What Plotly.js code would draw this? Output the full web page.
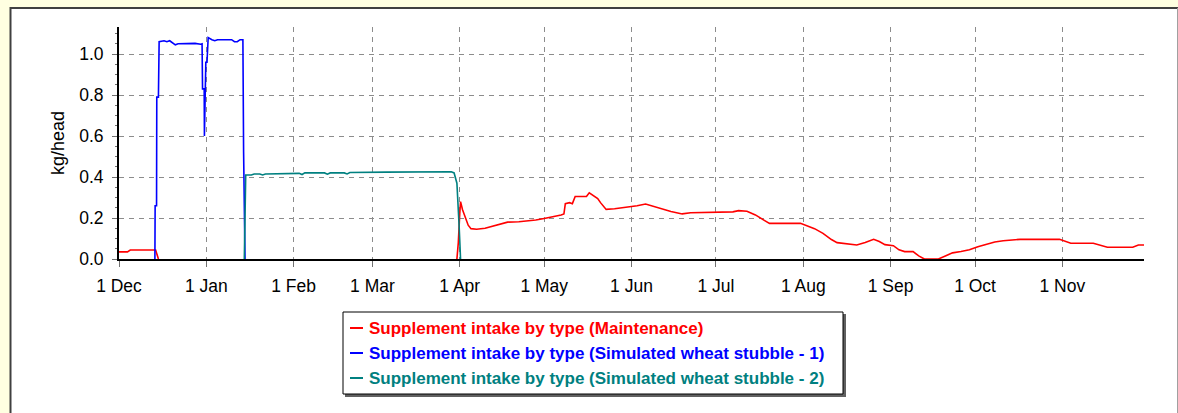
<!DOCTYPE html>
<html>
<head>
<meta charset="utf-8">
<script src="https://cdn.plot.ly/plotly-3.0.1.min.js"></script>
<style>
  html, body { margin: 0; padding: 0; background: #FFFFE1; }
  #chart { width: 1178px; height: 413px; }
</style>
</head>
<body>
<div id="chart"></div>
<script>
// ---- Data ----
const seriesNames = [
  "Supplement intake by type (Maintenance)",
  "Supplement intake by type (Simulated wheat stubble - 1)",
  "Supplement intake by type (Simulated wheat stubble - 2)"
];
const seriesColors = ["#FF0000", "#0000FF", "#008080"];

const redDates = ['2010-12-01','2010-12-04','2010-12-05','2010-12-14','2010-12-15','2011-03-30','2011-03-31','2011-03-31 12:00','2011-04-01','2011-04-01 07:00','2011-04-02','2011-04-03','2011-04-04','2011-04-05','2011-04-07','2011-04-10','2011-04-13','2011-04-15','2011-04-18','2011-04-22','2011-04-26','2011-04-28','2011-05-01','2011-05-04','2011-05-07','2011-05-08','2011-05-08 12:00','2011-05-10','2011-05-11','2011-05-12','2011-05-16','2011-05-17','2011-05-18','2011-05-19','2011-05-20','2011-05-21','2011-05-23','2011-05-26','2011-05-30','2011-06-03','2011-06-06','2011-06-09','2011-06-11','2011-06-15','2011-06-19','2011-06-22','2011-07-07','2011-07-09','2011-07-12','2011-07-15','2011-07-18','2011-07-20','2011-07-31','2011-08-03','2011-08-05','2011-08-08','2011-08-11','2011-08-13','2011-08-20','2011-08-23','2011-08-26','2011-08-28','2011-08-30','2011-09-02','2011-09-04','2011-09-06','2011-09-09','2011-09-11','2011-09-13','2011-09-18','2011-09-20','2011-09-23','2011-09-26','2011-09-29','2011-10-02','2011-10-05','2011-10-08','2011-10-11','2011-10-15','2011-10-17','2011-10-31','2011-11-02','2011-11-04','2011-11-12','2011-11-15','2011-11-17','2011-11-26','2011-11-28','2011-11-30'];
// null = no supplement fed (line hidden behind the axis in the original)
const redValues = [0.035,0.035,0.044,0.044,0,null,0,0.08,0.22,0.28,0.24,0.2,0.165,0.148,0.145,0.15,0.16,0.17,0.18,0.182,0.185,0.19,0.198,0.205,0.215,0.22,0.27,0.275,0.27,0.305,0.305,0.323,0.315,0.305,0.295,0.275,0.242,0.245,0.252,0.26,0.268,0.255,0.247,0.232,0.22,0.226,0.23,0.236,0.233,0.215,0.19,0.174,0.174,0.16,0.148,0.125,0.095,0.08,0.068,0.08,0.096,0.085,0.07,0.065,0.045,0.036,0.036,0.015,0,0,0.012,0.03,0.037,0.045,0.06,0.073,0.083,0.089,0.094,0.096,0.096,0.085,0.077,0.077,0.065,0.057,0.057,0.068,0.068];

const blueDates = ['2010-12-13 18:00','2010-12-13 20:00','2010-12-14 08:00','2010-12-14 10:00','2010-12-15','2010-12-15 06:00','2010-12-17','2010-12-18','2010-12-19','2010-12-20','2010-12-21','2010-12-22','2010-12-25','2010-12-28','2010-12-30','2010-12-30 12:00','2010-12-30 16:00','2010-12-31 06:00','2010-12-31 08:00','2010-12-31 12:00','2010-12-31 20:00','2011-01-01 06:00','2011-01-01 16:00','2011-01-03','2011-01-04','2011-01-05','2011-01-10','2011-01-11','2011-01-12','2011-01-13','2011-01-14','2011-01-14 06:00','2011-01-14 18:00'];
const blueValues = [0,0.26,0.26,0.79,0.79,1.06,1.065,1.06,1.065,1.055,1.045,1.05,1.052,1.052,1.048,1.05,0.83,0.83,0.6,0.72,0.96,0.96,1.08,1.07,1.065,1.07,1.07,1.06,1.06,1.07,1.07,0.52,0];

const tealDates = ['2011-01-14 12:00','2011-01-14 16:00','2011-01-15','2011-01-17','2011-01-18','2011-01-20','2011-01-21','2011-01-22','2011-01-28','2011-01-30','2011-02-03','2011-02-04','2011-02-05','2011-02-12','2011-02-13','2011-02-14','2011-02-19','2011-02-20','2011-02-21','2011-03-06','2011-03-16','2011-03-29','2011-03-30','2011-03-31','2011-03-31 19:00','2011-04-01 07:00'];
const tealValues = [0,0.2,0.41,0.41,0.415,0.415,0.41,0.415,0.415,0.418,0.418,0.412,0.42,0.42,0.414,0.42,0.42,0.415,0.422,0.424,0.426,0.426,0.42,0.37,0.16,0];

const yTickVals = [0, 0.2, 0.4, 0.6, 0.8, 1.0];
const xRange = ['2010-12-01', '2011-11-30'];
const yRange = [0, 1.132];
const yTitle = "kg/head";

// ---- Layout geometry (pixels -> paper coords) ----
const W = 1178, H = 413;
const M = { l: 119, r: 34, t: 27, b: 154 };
const PW = W - M.l - M.r, PH = H - M.t - M.b;
const px = x => (x - M.l) / PW;
const py = y => (H - M.b - y) / PH;

const allDates = [redDates, blueDates, tealDates];
const allValues = [redValues, blueValues, tealValues];

const traces = allDates.map((d, i) => ({
  type: 'scatter',
  mode: 'lines',
  x: d,
  y: allValues[i],
  name: seriesNames[i],
  connectgaps: false,
  line: { color: seriesColors[i], width: 1.6 },
  showlegend: false,
  hoverinfo: 'x+y+name'
}));

const shapes = [
  // white panel with border
  { type: 'rect', xref: 'paper', yref: 'paper', layer: 'below',
    x0: px(10), x1: px(1178), y0: py(420), y1: py(7.5),
    fillcolor: '#FFFFFF', line: { width: 0 } },
  { type: 'line', xref: 'paper', yref: 'paper', layer: 'below',
    x0: px(10.5), x1: px(10.5), y0: py(420), y1: py(7),
    line: { color: '#404040', width: 2 } },
  { type: 'line', xref: 'paper', yref: 'paper', layer: 'below',
    x0: px(10), x1: px(1178), y0: py(8), y1: py(8),
    line: { color: '#404040', width: 2 } },
  { type: 'line', xref: 'paper', yref: 'paper', layer: 'below',
    x0: px(1177.5), x1: px(1177.5), y0: py(420), y1: py(8),
    line: { color: '#A0A0A0', width: 1 } },
  // legend shadow and box
  { type: 'rect', xref: 'paper', yref: 'paper',
    x0: px(345), x1: px(846), y0: py(397), y1: py(314),
    fillcolor: '#606060', line: { width: 0 } },
  { type: 'rect', xref: 'paper', yref: 'paper',
    x0: px(343), x1: px(843), y0: py(394), y1: py(312),
    fillcolor: '#FFFFFF', line: { color: '#000000', width: 1 } }
];

const rowY = [328, 353, 378];
const annotations = [];
seriesNames.forEach((n, i) => {
  shapes.push({ type: 'line', xref: 'paper', yref: 'paper',
    x0: px(350), x1: px(363), y0: py(rowY[i]), y1: py(rowY[i]),
    line: { color: seriesColors[i], width: 2 } });
  annotations.push({ xref: 'paper', yref: 'paper', x: px(367), y: py(rowY[i]),
    xanchor: 'left', yanchor: 'middle', showarrow: false,
    text: '<b>' + n + '</b>',
    font: { family: 'Liberation Sans, Arial, sans-serif', size: 17, color: seriesColors[i] } });
});

const tickFont = { family: 'Liberation Sans, Arial, sans-serif', size: 17.5, color: '#000000' };

const layout = {
  width: W, height: H,
  margin: M,
  paper_bgcolor: '#FFFFE1',
  plot_bgcolor: '#FFFFFF',
  showlegend: false,
  xaxis: {
    type: 'date',
    range: xRange,
    tick0: '2010-12-01',
    dtick: 'M1',
    tickformat: '%-d %b',
    ticks: 'outside', ticklen: 6, tickwidth: 1, tickcolor: '#707070',
    ticklabelstandoff: 4,
    showline: true, linecolor: '#000000', linewidth: 2,
    showgrid: true, gridcolor: '#8C8C8C', gridwidth: 1, griddash: '5px,5px',
    zeroline: false,
    tickfont: tickFont,
    fixedrange: true
  },
  yaxis: {
    range: yRange,
    tickvals: yTickVals,
    tickformat: '.1f',
    ticks: 'outside', ticklen: 5, tickwidth: 1, tickcolor: '#707070',
    ticklabelstandoff: 5,
    showline: true, linecolor: '#000000', linewidth: 2,
    showgrid: true, gridcolor: '#8C8C8C', gridwidth: 1, griddash: '5px,5px',
    zeroline: false,
    tickfont: tickFont,
    minor: { dtick: 0.05, ticks: 'outside', ticklen: 2, tickcolor: '#707070', showgrid: false },
    title: { text: yTitle, font: { family: 'Liberation Sans, Arial, sans-serif', size: 18, color: '#000000' }, standoff: 10 },
    fixedrange: true
  },
  shapes: shapes,
  annotations: annotations
};

Plotly.newPlot('chart', traces, layout, { displayModeBar: false, staticPlot: true });
</script>
</body>
</html>
